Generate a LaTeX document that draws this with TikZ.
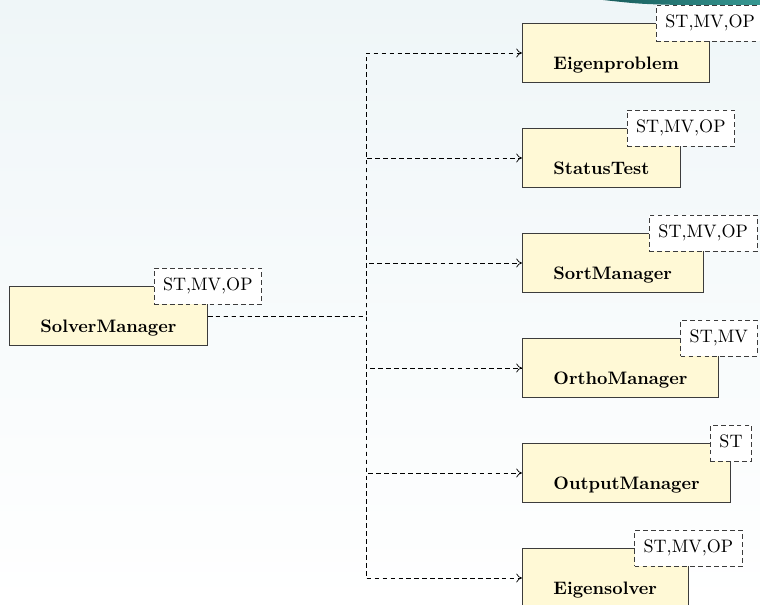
\documentclass[tikz,border=0pt]{standalone}
\usepackage{tikz}
\usetikzlibrary{arrows.meta,positioning}
\definecolor{bgtop}{RGB}{239,246,248}
\definecolor{classfill}{RGB}{255,249,214}
\definecolor{classline}{RGB}{60,60,60}
\definecolor{tealdark}{RGB}{24,92,92}
\definecolor{teallight}{RGB}{54,152,146}

\begin{document}
\begin{tikzpicture}[
  x=0.554pt, y=-0.554pt,
  cls/.style={draw=classline, fill=classfill, anchor=west, font=\bfseries, inner xsep=17.2pt, inner ysep=0pt, text height=25.6pt, text depth=7pt},
  tmpl/.style={draw=classline, dash pattern=on 2.6pt off 1.8pt, fill=white, inner xsep=5pt, inner ysep=0pt, minimum height=20pt, text height=7pt, text depth=2pt},
  dep/.style={-{To[length=1.1mm,width=1.7mm]}, dash pattern=on 2.6pt off 1.8pt}
]
  \shade[top color=bgtop, bottom color=white] (0,0) rectangle (760,605);
  \useasboundingbox (0,0) rectangle (760,605);
  \shade[left color=tealdark, right color=teallight] (603,0) .. controls (640,4) .. (680,5) -- (760,5) -- (760,0) -- cycle;

  \coordinate (fork) at (366,316);
  \node[cls] at (9,316) (solver) {SolverManager};
  \node[cls] at (522,53) (eigprob) {Eigenproblem};
  \node[cls] at (522,158) (status) {StatusTest};
  \node[cls] at (522,263) (sortmgr) {SortManager};
  \node[cls] at (522,368) (orthomgr) {OrthoManager};
  \node[cls] at (522,473) (outmgr) {OutputManager};
  \node[cls] at (522,578) (eigsolver) {Eigensolver};

  \foreach \n in {eigprob,status,sortmgr,orthomgr,outmgr,eigsolver}
    \draw[dep] (solver.east) -- (fork) |- (\n.west);

  \node[tmpl] at (solver.north east) {ST,MV,OP};
  \node[tmpl] at (eigprob.north east) {ST,MV,OP};
  \node[tmpl] at (status.north east) {ST,MV,OP};
  \node[tmpl] at (sortmgr.north east) {ST,MV,OP};
  \node[tmpl] at (orthomgr.north east) {ST,MV};
  \node[tmpl] at (outmgr.north east) {ST};
  \node[tmpl] at (eigsolver.north east) {ST,MV,OP};
\end{tikzpicture}
\end{document}
